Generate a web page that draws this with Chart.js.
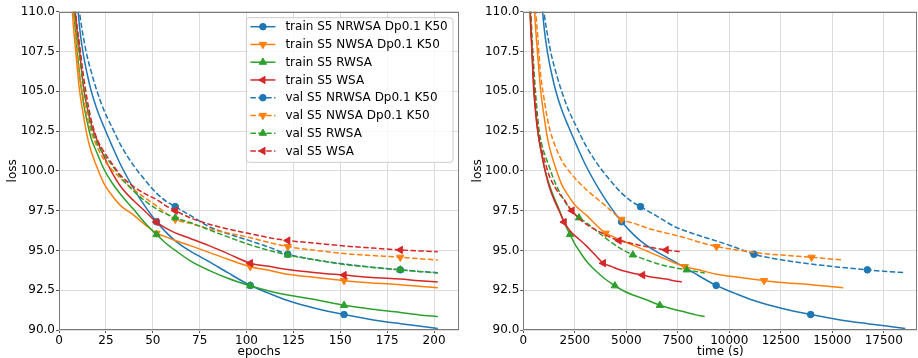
<!DOCTYPE html>
<html><head><meta charset="utf-8">
<script src="https://cdn.jsdelivr.net/npm/chart.js@4.4.1/dist/chart.umd.min.js"></script>
<style>
html,body{margin:0;padding:0;background:#fff;}
#wrap{position:relative;width:918px;height:358px;overflow:hidden;background:#fff;}
canvas{position:absolute;top:0;}
</style></head><body>
<div id="wrap">
<canvas id="c1" width="462" height="358" style="left:0px;width:462px;height:358px"></canvas>
<canvas id="c2" width="456" height="358" style="left:462px;width:456px;height:358px"></canvas>
</div>
<script>
// ---- data ----
const epochs = [1, 3, 5, 7, 9, 11, 13, 15, 17, 20, 24, 28, 33, 40, 46, 52, 57, 62, 70, 80, 90, 102, 112, 122, 137, 152, 167, 182, 192, 202];

const trainNRWSA = [150, 135, 125, 117, 112, 109, 107.3, 106.1, 105.1, 103.95, 102.75, 101.65, 100.35, 98.85, 97.75, 96.8, 96.15, 95.6, 94.95, 94.3, 93.6, 92.8, 92.3, 91.85, 91.35, 90.97, 90.65, 90.4, 90.25, 90.1];
const trainNWSA  = [135, 123, 115.5, 110.2, 107.4, 105.0, 103.5, 102.2, 101.3, 100.3, 99.2, 98.5, 97.8, 97.2, 96.6, 96.08, 95.85, 95.62, 95.3, 94.88, 94.45, 93.98, 93.75, 93.5, 93.3, 93.1, 92.95, 92.85, 92.75, 92.65];
const trainRWSA  = [138, 125, 117, 111.5, 108.5, 106.0, 104.3, 103.1, 102.1, 101.2, 100.1, 99.3, 98.5, 97.55, 96.7, 96.0, 95.45, 95.0, 94.35, 93.75, 93.25, 92.78, 92.45, 92.2, 91.9, 91.55, 91.3, 91.1, 90.95, 90.84];
const trainWSA   = [140, 127, 119, 113, 109.5, 107.5, 105.3, 104.0, 103.0, 102.0, 100.9, 99.95, 99.0, 98.1, 97.45, 96.78, 96.4, 96.1, 95.75, 95.3, 94.8, 94.2, 94.0, 93.8, 93.6, 93.45, 93.3, 93.2, 93.1, 93.02];
const valNRWSA   = [150, 135, 124, 116, 112, 109.9, 108.4, 107.2, 106.3, 105.1, 103.8, 102.8, 101.6, 100.3, 99.4, 98.6, 98.1, 97.75, 97.2, 96.5, 96.05, 95.6, 95.2, 94.76, 94.4, 94.15, 93.95, 93.78, 93.68, 93.6];
const valNWSA    = [136, 124, 116, 111.2, 108.6, 106.0, 104.6, 103.4, 102.5, 101.6, 100.7, 100.1, 99.5, 98.8, 98.3, 97.8, 97.35, 96.95, 96.7, 96.35, 96.1, 95.8, 95.5, 95.24, 95.0, 94.8, 94.68, 94.57, 94.48, 94.4];
const valRWSA    = [138, 126, 118, 112, 109.3, 107.2, 105.4, 104.0, 102.8, 101.8, 101.0, 100.4, 99.6, 98.7, 98.1, 97.6, 97.3, 97.05, 96.75, 96.3, 95.85, 95.35, 95.0, 94.72, 94.4, 94.12, 93.93, 93.78, 93.68, 93.58];
const valWSA     = [140, 127, 119, 113, 109.8, 107.9, 106.0, 104.5, 103.3, 102.1, 101.2, 100.5, 99.7, 99.0, 98.55, 98.2, 97.8, 97.5, 97.05, 96.65, 96.35, 96.05, 95.8, 95.62, 95.45, 95.28, 95.15, 95.03, 94.97, 94.92];

// seconds per epoch of each model (NRWSA, NWSA, RWSA, WSA)
const secondsPerEpoch = [91.8, 76.9, 43.6, 38.1];

const trainLabels = ['train S5 NRWSA Dp0.1 K50', 'train S5 NWSA Dp0.1 K50', 'train S5 RWSA', 'train S5 WSA'];
const valLabels   = ['val S5 NRWSA Dp0.1 K50', 'val S5 NWSA Dp0.1 K50', 'val S5 RWSA', 'val S5 WSA'];

const trainMarkerEpochs = [52, 102, 152];
const valMarkerEpochs   = [62, 122, 182];

const yTicks = [90.0, 92.5, 95.0, 97.5, 100.0, 102.5, 105.0, 107.5, 110.0];
const epochTicks = [0, 25, 50, 75, 100, 125, 150, 175, 200];
const timeTicks = [0, 2500, 5000, 7500, 10000, 12500, 15000, 17500];

// ---- styling ----
const colors = ['#1f77b4', '#ff7f0e', '#2ca02c', '#d62728'];
const mStyle = [{s:'circle', r:0, rad:3.3}, {s:'triangle', r:180, rad:4.2}, {s:'triangle', r:0, rad:4.2}, {s:'triangle', r:270, rad:4.2}];
const DASH = [5.5, 2.4];

Chart.defaults.font.family = "'DejaVu Sans', sans-serif";
Chart.defaults.font.size = 12;
Chart.defaults.color = '#000';

const trainSeries = [trainNRWSA, trainNWSA, trainRWSA, trainWSA];
const valSeries = [valNRWSA, valNWSA, valRWSA, valWSA];

function buildDatasets(useTime) {
  const ds = [];
  let k = 0;
  [[trainSeries, trainMarkerEpochs, false, trainLabels], [valSeries, valMarkerEpochs, true, valLabels]].forEach(([series, marks, dashed, labels]) => {
    series.forEach((vals, i) => {
      const data = epochs.map((e, j) => ({x: useTime ? e * secondsPerEpoch[i] : e, y: vals[j]}));
      ds.push({
        label: labels[i],
        data,
        borderColor: colors[i],
        backgroundColor: colors[i],
        borderWidth: 1.5,
        borderDash: dashed ? DASH : [],
        cubicInterpolationMode: 'monotone',
        pointStyle: mStyle[i].s,
        pointRotation: mStyle[i].r,
        pointRadius: ctx => marks.includes(epochs[ctx.dataIndex]) ? mStyle[i].rad : 0,
        pointBorderWidth: 1,
        pointBorderColor: colors[i],
        pointBackgroundColor: colors[i],
        pointHoverRadius: 0,
        order: -k,
        _dashed: dashed,
        _mi: i
      });
      k++;
    });
  });
  return ds;
}

function drawMarker(ctx, m, x, y, color) {
  ctx.save();
  ctx.fillStyle = color; ctx.strokeStyle = color; ctx.lineWidth = 1; ctx.setLineDash([]);
  ctx.beginPath();
  if (m.s === 'circle') {
    ctx.arc(x, y, m.rad, 0, Math.PI * 2);
  } else {
    let rad = m.r * Math.PI / 180;
    const r = m.rad;
    ctx.moveTo(x + Math.sin(rad) * r, y - Math.cos(rad) * r);
    rad += 2 * Math.PI / 3;
    ctx.lineTo(x + Math.sin(rad) * r, y - Math.cos(rad) * r);
    rad += 2 * Math.PI / 3;
    ctx.lineTo(x + Math.sin(rad) * r, y - Math.cos(rad) * r);
    ctx.closePath();
  }
  ctx.fill(); ctx.stroke();
  ctx.restore();
}

const framePlugin = {
  id: 'frame',
  afterDatasetsDraw(chart) {
    const {ctx, chartArea: a} = chart;
    ctx.save();
    ctx.strokeStyle = '#7a7a7a';
    ctx.lineWidth = 1;
    ctx.strokeRect(Math.round(a.left) + 0.5, Math.round(a.top) + 0.5, Math.round(a.right - a.left) - 1, Math.round(a.bottom - a.top) - 1);
    ctx.restore();
  }
};

const legendPlugin = {
  id: 'innerLegend',
  afterDraw(chart) {
    const {ctx, chartArea: a} = chart;
    const w = 206.6, h = 144.6;
    const x0 = a.right - 6 - w, y0 = a.top + 6;
    ctx.save();
    ctx.fillStyle = 'rgba(255,255,255,0.8)';
    ctx.strokeStyle = '#cccccc';
    ctx.lineWidth = 1;
    const r = 3;
    ctx.beginPath();
    ctx.moveTo(x0 + r, y0);
    ctx.arcTo(x0 + w, y0, x0 + w, y0 + h, r);
    ctx.arcTo(x0 + w, y0 + h, x0, y0 + h, r);
    ctx.arcTo(x0, y0 + h, x0, y0, r);
    ctx.arcTo(x0, y0, x0 + w, y0, r);
    ctx.closePath();
    ctx.fill(); ctx.stroke();
    ctx.font = "12px 'DejaVu Sans', sans-serif";
    ctx.textBaseline = 'middle';
    ctx.fillStyle = '#000';
    chart.data.datasets.forEach((d, k) => {
      const y = y0 + 9 + k * 17.75;
      const lx0 = x0 + 4, lx1 = x0 + 29;
      ctx.strokeStyle = d.borderColor;
      ctx.lineWidth = 1.5;
      ctx.setLineDash(d._dashed ? DASH : []);
      ctx.beginPath(); ctx.moveTo(lx0, y); ctx.lineTo(lx1, y); ctx.stroke();
      ctx.setLineDash([]);
      drawMarker(ctx, mStyle[d._mi], (lx0 + lx1) / 2, y, d.borderColor);
      ctx.fillStyle = '#000';
      ctx.fillText(d.label, x0 + 39, y + 0.5);
    });
    ctx.restore();
  }
};

function makeChart(id, useTime, xMax, xTicks, xTitle, yAxisWidth, padRight, yTitlePad, withLegend) {
  return new Chart(document.getElementById(id), {
    type: 'line',
    data: {datasets: buildDatasets(useTime)},
    options: {
      responsive: false,
      animation: false,
      events: [],
      layout: {padding: {top: 11.7, right: padRight, left: 0, bottom: 0}},
      plugins: {legend: {display: false}, tooltip: {enabled: false}},
      scales: {
        x: {
          type: 'linear', min: 0, max: xMax,
          afterFit: s => { s.height = 28; },
          afterBuildTicks: s => { s.ticks = xTicks.map(v => ({value: v})); },
          ticks: {autoSkip: false, maxRotation: 0, padding: 1, font: {size: 12}, callback: v => String(v)},
          grid: {color: '#dcdcdc', lineWidth: 1, tickLength: 3, tickColor: '#555'},
          border: {display: false},
          title: {display: true, text: xTitle, font: {size: 12, lineHeight: 1.0}, padding: {top: 0, bottom: 0}}
        },
        y: {
          type: 'linear', min: 90, max: 110,
          afterFit: s => { s.width = yAxisWidth; },
          afterBuildTicks: s => { s.ticks = yTicks.map(v => ({value: v})); },
          ticks: {autoSkip: false, padding: 1, font: {size: 12}, callback: v => v.toFixed(1)},
          grid: {color: '#dcdcdc', lineWidth: 1, tickLength: 3, tickColor: '#555'},
          border: {display: false},
          title: {display: true, text: 'loss', font: {size: 12}, padding: {top: yTitlePad, bottom: 0}}
        }
      }
    },
    plugins: withLegend ? [framePlugin, legendPlugin] : [framePlugin]
  });
}

makeChart('c1', false, 213.3, epochTicks, 'epochs', 59, 3, 5.8, true);
makeChart('c2', true, 19130, timeTicks, 'time (s)', 61.3, 0.7, 9.1, false);
</script>
</body></html>
